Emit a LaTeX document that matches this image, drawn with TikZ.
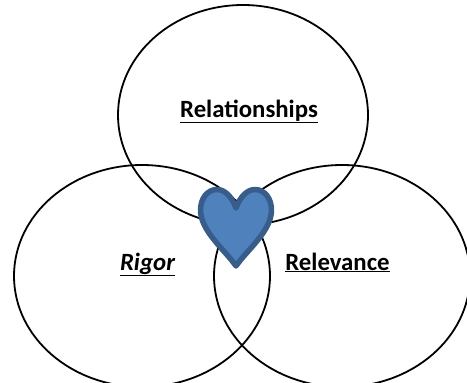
\documentclass[tikz,border=0pt]{standalone}
\usepackage{fontspec}
\setmainfont{Carlito}
\usetikzlibrary{shapes.geometric}
\definecolor{heartfill}{HTML}{4F81BD}
\definecolor{heartline}{HTML}{385D8A}
\tikzset{
  circ/.style={draw=black,line width=1.8pt,ellipse,inner sep=0pt,minimum width=#1},
  lab/.style={font=\fontsize{24.8pt}{28pt}\selectfont\bfseries,inner sep=0pt,anchor=base,text=black},
  heart/.style={fill=heartfill,draw=heartline,line width=5.5pt,line join=round}
}
\begin{document}
\begin{tikzpicture}[x=1pt,y=-1pt]
\useasboundingbox (0,0) rectangle (467,383);
\node[circ=250pt,minimum height=220pt] (top) at (243,115) {};
\node[circ=256pt,minimum height=222pt] (left) at (142,276) {};
\node[circ=256pt,minimum height=222pt] (right) at (342,276) {};
\node[lab] (t1) at (249,117) {\underline{Relationships}};
\node[lab] (t2) at (147.5,270) {\underline{\itshape Rigor}};
\node[lab] (t3) at (337.5,270) {\underline{Relevance}};
\path[heart] (236,208)
  .. controls (232,197) and (225,189.5) .. (217,189.5)
  .. controls (207,189.5) and (200.5,199) .. (200.5,210)
  .. controls (200.5,231) and (225,250) .. (236,266)
  .. controls (247,250) and (271.5,231) .. (271.5,210)
  .. controls (271.5,199) and (265,189.5) .. (255,189.5)
  .. controls (247,189.5) and (240,197) .. (236,208) -- cycle;
\end{tikzpicture}
\end{document}
